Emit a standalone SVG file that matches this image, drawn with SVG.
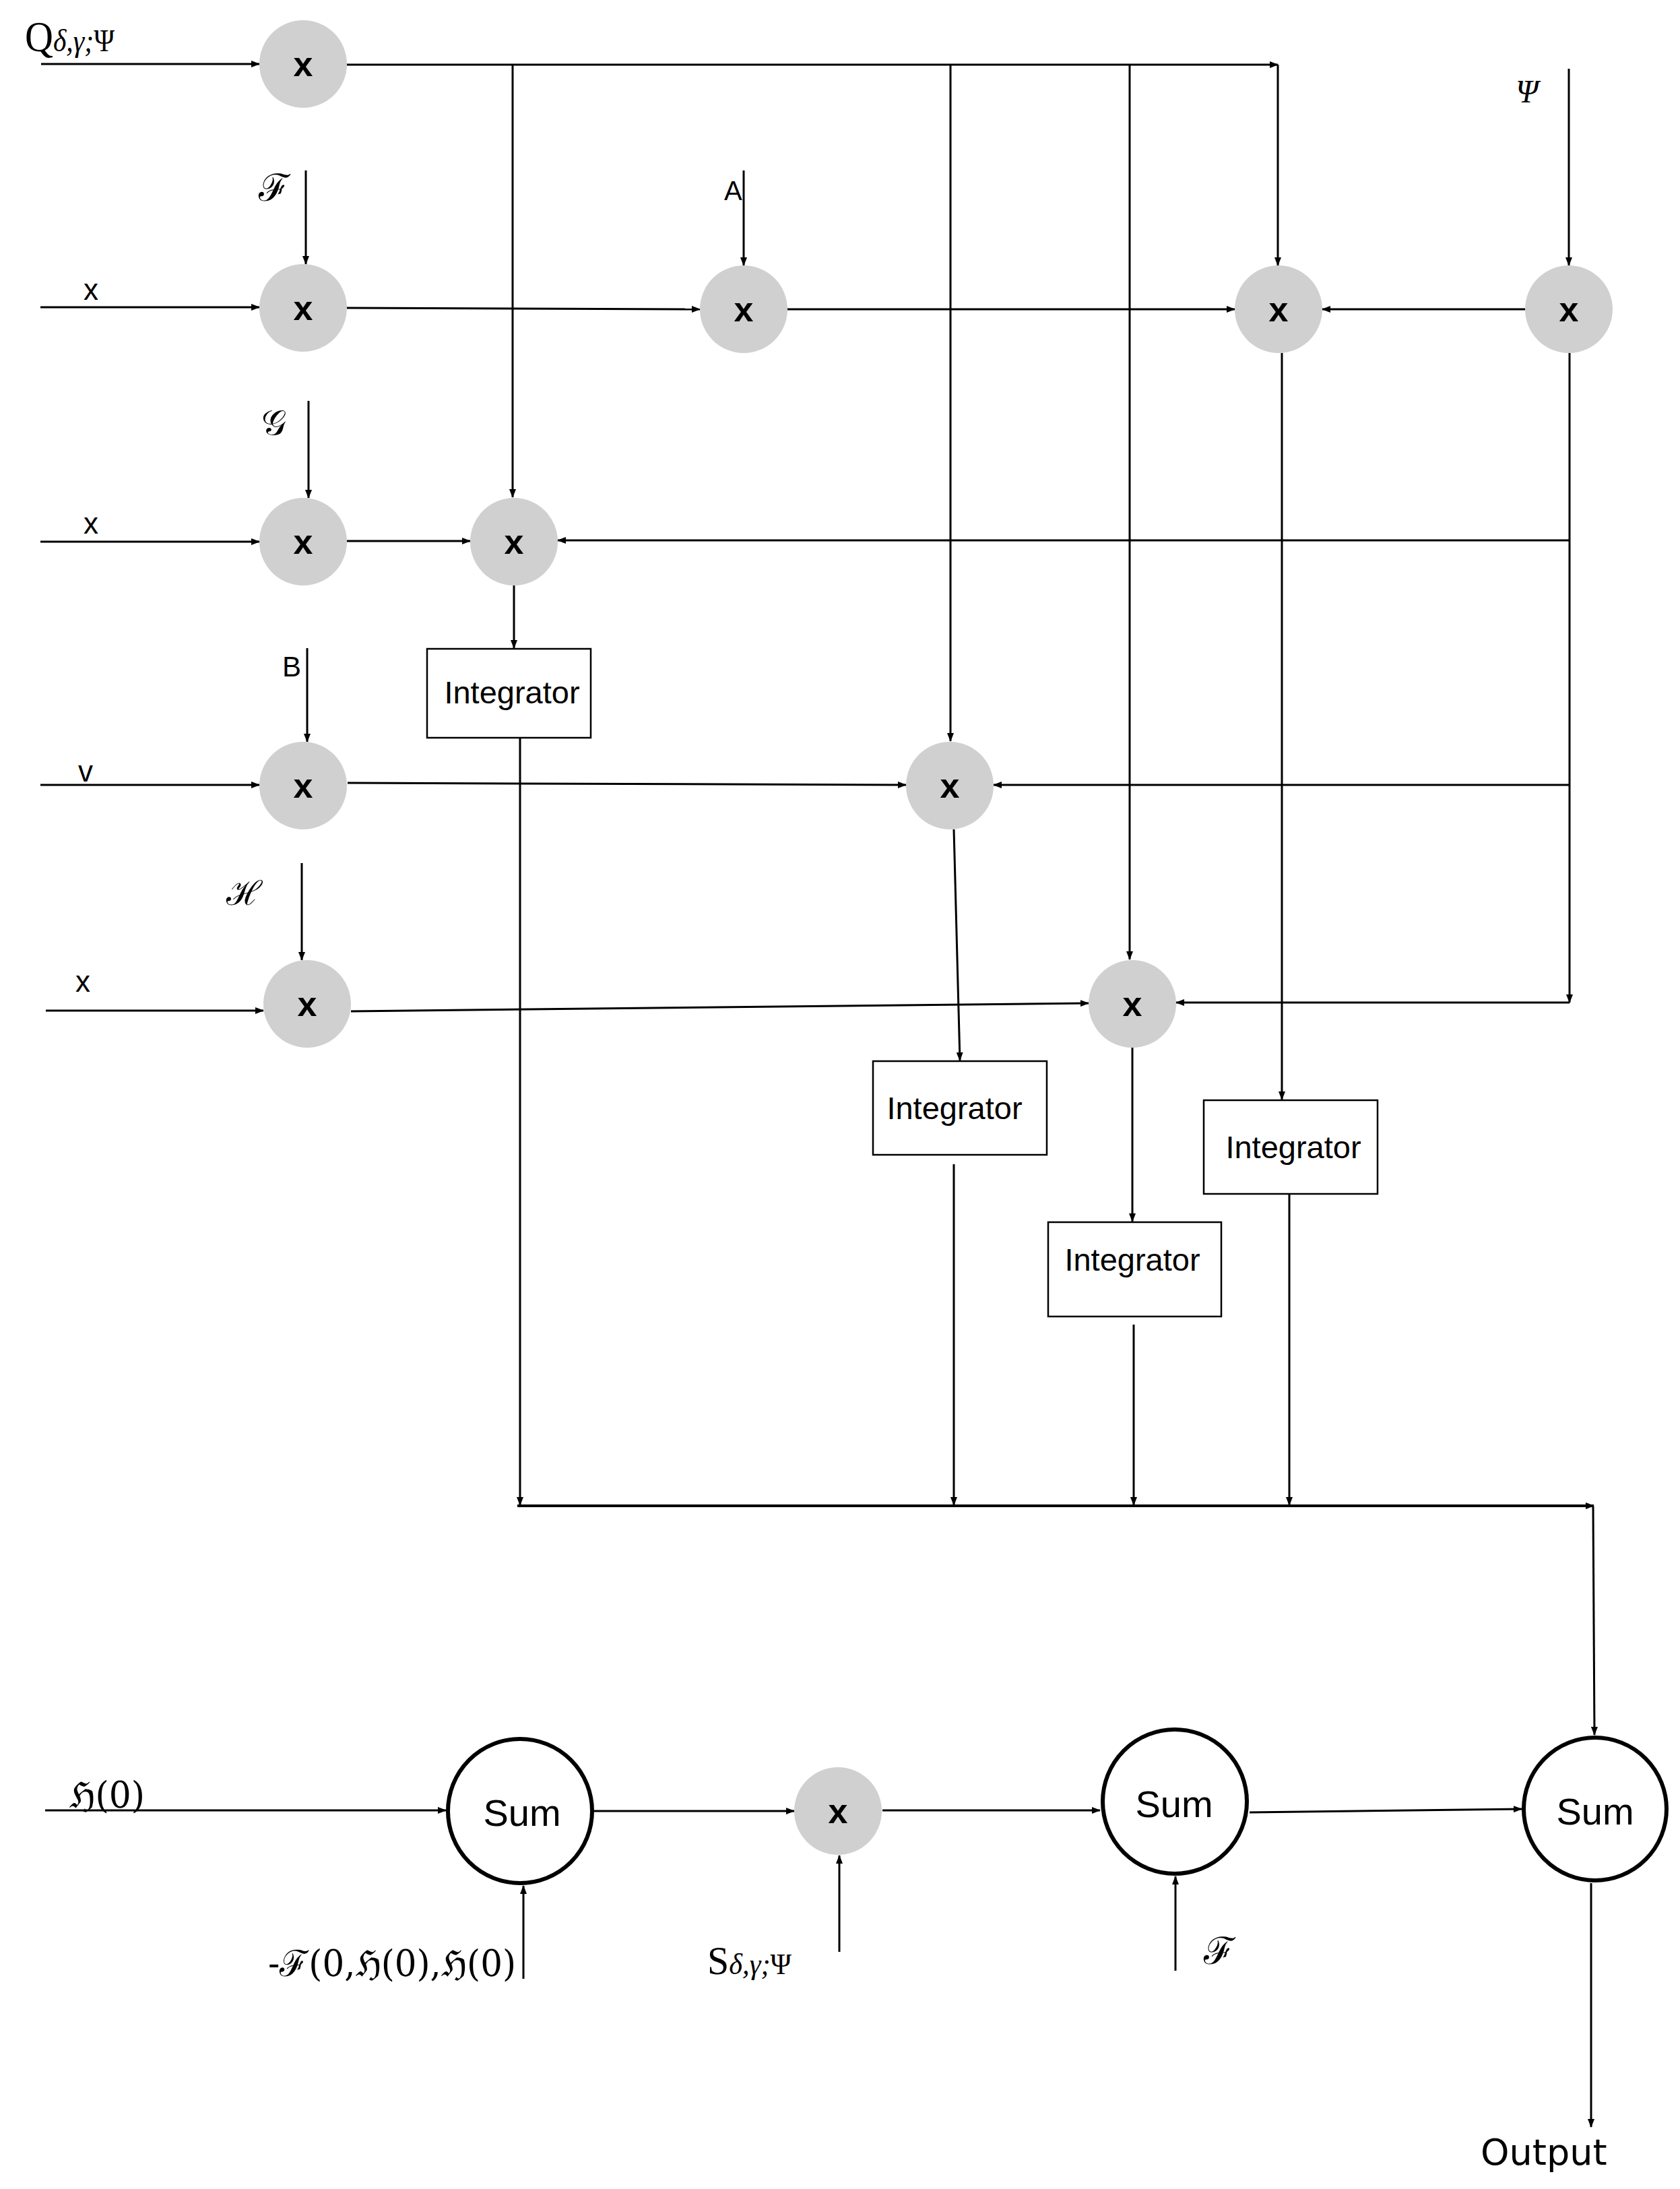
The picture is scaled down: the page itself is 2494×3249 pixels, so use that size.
<svg xmlns="http://www.w3.org/2000/svg" width="2494" height="3249" viewBox="0 0 2494 3249">
<defs>
<marker id="ah" markerWidth="13" markerHeight="10" refX="12" refY="5" orient="auto" markerUnits="userSpaceOnUse"><path d="M0,0 L13,5 L0,10 z" fill="#000"/></marker>
<style>
.ln{stroke:#000;stroke-width:3;fill:none;marker-end:url(#ah)}
.bus{stroke:#000;stroke-width:4;fill:none;marker-end:url(#ah)}
.mul{fill:#d0d0d0}
.mt{font-family:"Liberation Sans",Arial,sans-serif;font-weight:bold;font-size:52px;text-anchor:middle}
.box{fill:#fff;stroke:#000;stroke-width:2.5}
.it{font-family:"Liberation Sans",Arial,sans-serif;font-size:47px;text-anchor:middle}
.sum{fill:#fff;stroke:#000;stroke-width:6}
.st{font-family:"Liberation Sans",Arial,sans-serif;font-size:56px;text-anchor:middle}
.lb{font-family:"Liberation Sans",Arial,sans-serif}
.mc{font-family:"DejaVu Serif","Liberation Serif",serif}
.sr{font-family:"Liberation Serif","DejaVu Serif",serif}
</style>
</defs>
<rect width="2494" height="3249" fill="#fff"/>

<g id="connectors">
<path class="ln" d="M61,95 H385"/>
<path class="ln" d="M515,96 H1897"/>
<path class="ln" d="M1897,96 V394"/>
<path class="ln" d="M761,96 V738"/>
<path class="ln" d="M1411,96 V1100"/>
<path class="ln" d="M1677,96 V1424"/>
<path class="ln" d="M454,253 V392"/>
<path class="ln" d="M60,456 H385"/>
<path class="ln" d="M515,457 L1039,459"/>
<path class="ln" d="M1104,253 V394"/>
<path class="ln" d="M1169,459 H1833"/>
<path class="ln" d="M2329,102 V394"/>
<path class="ln" d="M2264,459 H1963"/>
<path class="ln" d="M1903,524 V1632"/>
<path class="ln" d="M2330,524 V1488"/>
<path class="ln" d="M458,595 V739"/>
<path class="ln" d="M60,804 H385"/>
<path class="ln" d="M515,803 H698"/>
<path class="ln" d="M2330,802 H828"/>
<path class="ln" d="M763,869 V962"/>
<path class="ln" d="M772,1095 V2234"/>
<path class="ln" d="M456,962 V1101"/>
<path class="ln" d="M60,1165 H385"/>
<path class="ln" d="M516,1162 L1345,1165"/>
<path class="ln" d="M2330,1165 H1475"/>
<path class="ln" d="M1416,1231 L1425,1574"/>
<path class="ln" d="M1416,1728 V2234"/>
<path class="ln" d="M448,1281 V1425"/>
<path class="ln" d="M68,1500 H391"/>
<path class="ln" d="M521,1501 L1616,1489"/>
<path class="ln" d="M2330,1488 H1746"/>
<path class="ln" d="M1681,1555 V1813"/>
<path class="ln" d="M1683,1966 V2234"/>
<path class="ln" d="M1914,1772 V2234"/>
<path class="bus" d="M768,2235 H2366"/>
<path class="ln" d="M2365,2236 L2367,2575"/>
<path class="ln" d="M67,2687 H662"/>
<path class="ln" d="M882,2688 H1179"/>
<path class="ln" d="M1310,2687 H1633"/>
<path class="ln" d="M1855,2690 L2259,2685"/>
<path class="ln" d="M777,2937 V2799"/>
<path class="ln" d="M1246,2897 V2754"/>
<path class="ln" d="M1745,2925 V2785"/>
<path class="ln" d="M2362,2795 V3157"/>
</g>

<g id="m1"><circle class="mul" cx="450" cy="95" r="65"/><text class="mt" x="450" y="113">x</text></g>
<g id="m2"><circle class="mul" cx="450" cy="457" r="65"/><text class="mt" x="450" y="475">x</text></g>
<g id="m3"><circle class="mul" cx="1104" cy="459" r="65"/><text class="mt" x="1104" y="477">x</text></g>
<g id="m4"><circle class="mul" cx="1898" cy="459" r="65"/><text class="mt" x="1898" y="477">x</text></g>
<g id="m5"><circle class="mul" cx="2329" cy="459" r="65"/><text class="mt" x="2329" y="477">x</text></g>
<g id="m6"><circle class="mul" cx="450" cy="804" r="65"/><text class="mt" x="450" y="822">x</text></g>
<g id="m7"><circle class="mul" cx="763" cy="804" r="65"/><text class="mt" x="763" y="822">x</text></g>
<g id="m8"><circle class="mul" cx="450" cy="1166" r="65"/><text class="mt" x="450" y="1184">x</text></g>
<g id="m9"><circle class="mul" cx="1410" cy="1166" r="65"/><text class="mt" x="1410" y="1184">x</text></g>
<g id="m10"><circle class="mul" cx="456" cy="1490" r="65"/><text class="mt" x="456" y="1508">x</text></g>
<g id="m11"><circle class="mul" cx="1681" cy="1490" r="65"/><text class="mt" x="1681" y="1508">x</text></g>
<g id="m12"><circle class="mul" cx="1244" cy="2688" r="65"/><text class="mt" x="1244" y="2706">x</text></g>

<g id="int1"><rect class="box" x="634" y="963" width="243" height="132"/><text class="it" x="760" y="1044">Integrator</text></g>
<g id="int2"><rect class="box" x="1296" y="1575" width="258" height="139"/><text class="it" x="1417" y="1661">Integrator</text></g>
<g id="int3"><rect class="box" x="1556" y="1814" width="257" height="140"/><text class="it" x="1681" y="1886">Integrator</text></g>
<g id="int4"><rect class="box" x="1787" y="1633" width="258" height="139"/><text class="it" x="1920" y="1719">Integrator</text></g>

<g id="sum1"><circle class="sum" cx="772" cy="2688" r="107"/><text class="st" x="775" y="2710">Sum</text></g>
<g id="sum2"><circle class="sum" cx="1744" cy="2674" r="107"/><text class="st" x="1743" y="2697">Sum</text></g>
<g id="sum3"><circle class="sum" cx="2368" cy="2685" r="106"/><text class="st" x="2368" y="2708">Sum</text></g>

<g id="labels">
<text class="sr" x="37" y="76" style="font-size:64px" textLength="133" lengthAdjust="spacingAndGlyphs">Q<tspan style="font-size:46px;font-style:italic">δ,γ;</tspan><tspan style="font-size:46px">Ψ</tspan></text>
<text class="mc" x="384" y="298" style="font-size:56px">ℱ</text>
<text class="lb" x="1075" y="297" style="font-size:40px">A</text>
<text class="mc" x="388" y="645" style="font-size:52px">𝒢</text>
<text class="lb" x="419" y="1004" style="font-size:42px">B</text>
<text class="mc" x="336" y="1343" style="font-size:50px">ℋ</text>
<text class="sr" x="2250" y="152" style="font-size:48px;font-style:italic">Ψ</text>
<text class="lb" x="135" y="445" text-anchor="middle" style="font-size:44px">x</text>
<text class="lb" x="135" y="792" text-anchor="middle" style="font-size:44px">x</text>
<text class="lb" x="127" y="1160" text-anchor="middle" style="font-size:44px">v</text>
<text class="lb" x="123" y="1472" text-anchor="middle" style="font-size:44px">x</text>
<text class="mc" x="103" y="2683" style="font-size:54px" textLength="112" lengthAdjust="spacingAndGlyphs">ℌ(0)</text>
<text class="mc" x="398" y="2933" style="font-size:54px" textLength="368" lengthAdjust="spacingAndGlyphs">-ℱ(0,ℌ(0),ℌ(0)</text>
<text class="sr" x="1050" y="2930" style="font-size:60px" textLength="125" lengthAdjust="spacingAndGlyphs">S<tspan style="font-size:44px;font-style:italic">δ,γ;</tspan><tspan style="font-size:44px">Ψ</tspan></text>
<text class="mc" x="1787" y="2915" style="font-size:56px">ℱ</text>
<text x="2198" y="3213" font-family="DejaVu Sans,Verdana,sans-serif" font-size="54">Output</text>
</g>
</svg>
